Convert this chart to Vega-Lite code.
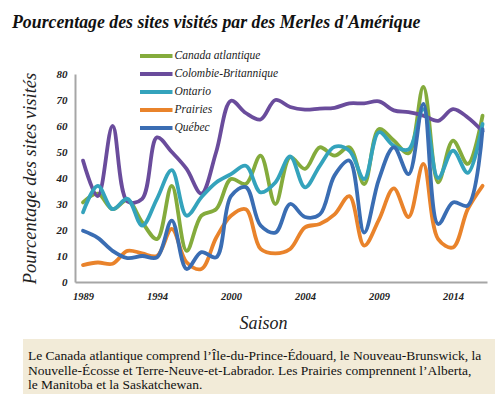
{
  "$schema": "https://vega.github.io/schema/vega-lite/v6.json",
  "padding": {"left": 12, "top": 13, "right": 3, "bottom": 1},
  "background": "white",
  "title": {"text": "Pourcentage des sites visités par des Merles d'Amérique", "anchor": "start", "frame": "bounds", "font": "Liberation Serif", "fontSize": 17.8, "fontStyle": "italic", "fontWeight": "bold", "color": "#111111", "dx": -8, "offset": 16},
  "config": {"view": {"stroke": null}},
  "spacing": 6,
  "vconcat": [
    {
      "width": 412,
      "height": 208,
      "data": {"values": [
        {"saison":0,"region":"Canada atlantique","pct":30.6},{"saison":1,"region":"Canada atlantique","pct":34},{"saison":2,"region":"Canada atlantique","pct":28},{"saison":3,"region":"Canada atlantique","pct":31.5},{"saison":4,"region":"Canada atlantique","pct":23},{"saison":5,"region":"Canada atlantique","pct":16.5},{"saison":6,"region":"Canada atlantique","pct":37},{"saison":7,"region":"Canada atlantique","pct":12},{"saison":8,"region":"Canada atlantique","pct":25.5},{"saison":9,"region":"Canada atlantique","pct":28},{"saison":10,"region":"Canada atlantique","pct":39.6},{"saison":11,"region":"Canada atlantique","pct":37.7},{"saison":12,"region":"Canada atlantique","pct":48.6},{"saison":13,"region":"Canada atlantique","pct":30},{"saison":14,"region":"Canada atlantique","pct":48},{"saison":15,"region":"Canada atlantique","pct":43.5},{"saison":16,"region":"Canada atlantique","pct":51.8},{"saison":17,"region":"Canada atlantique","pct":48.6},{"saison":18,"region":"Canada atlantique","pct":51.8},{"saison":19,"region":"Canada atlantique","pct":37.7},{"saison":20,"region":"Canada atlantique","pct":58.8},{"saison":21,"region":"Canada atlantique","pct":54.4},{"saison":22,"region":"Canada atlantique","pct":49.5},{"saison":23,"region":"Canada atlantique","pct":75},{"saison":24,"region":"Canada atlantique","pct":38.3},{"saison":25,"region":"Canada atlantique","pct":54.4},{"saison":26,"region":"Canada atlantique","pct":45.4},{"saison":27,"region":"Canada atlantique","pct":64},
        {"saison":0,"region":"Colombie-Britannique","pct":46.7},{"saison":1,"region":"Colombie-Britannique","pct":33},{"saison":2,"region":"Colombie-Britannique","pct":60},{"saison":3,"region":"Colombie-Britannique","pct":31},{"saison":4,"region":"Colombie-Britannique","pct":32},{"saison":5,"region":"Colombie-Britannique","pct":55.6},{"saison":6,"region":"Colombie-Britannique","pct":50},{"saison":7,"region":"Colombie-Britannique","pct":43.5},{"saison":8,"region":"Colombie-Britannique","pct":34},{"saison":9,"region":"Colombie-Britannique","pct":50},{"saison":10,"region":"Colombie-Britannique","pct":69.7},{"saison":11,"region":"Colombie-Britannique","pct":65},{"saison":12,"region":"Colombie-Britannique","pct":62.5},{"saison":13,"region":"Colombie-Britannique","pct":70},{"saison":14,"region":"Colombie-Britannique","pct":67.3},{"saison":15,"region":"Colombie-Britannique","pct":66.3},{"saison":16,"region":"Colombie-Britannique","pct":66.7},{"saison":17,"region":"Colombie-Britannique","pct":67},{"saison":18,"region":"Colombie-Britannique","pct":68.7},{"saison":19,"region":"Colombie-Britannique","pct":68.7},{"saison":20,"region":"Colombie-Britannique","pct":69.5},{"saison":21,"region":"Colombie-Britannique","pct":66},{"saison":22,"region":"Colombie-Britannique","pct":65.3},{"saison":23,"region":"Colombie-Britannique","pct":64},{"saison":24,"region":"Colombie-Britannique","pct":62},{"saison":25,"region":"Colombie-Britannique","pct":66.5},{"saison":26,"region":"Colombie-Britannique","pct":63.3},{"saison":27,"region":"Colombie-Britannique","pct":58},
        {"saison":0,"region":"Ontario","pct":26.8},{"saison":1,"region":"Ontario","pct":37},{"saison":2,"region":"Ontario","pct":28},{"saison":3,"region":"Ontario","pct":32},{"saison":4,"region":"Ontario","pct":21.7},{"saison":5,"region":"Ontario","pct":32},{"saison":6,"region":"Ontario","pct":43},{"saison":7,"region":"Ontario","pct":25.5},{"saison":8,"region":"Ontario","pct":32.6},{"saison":9,"region":"Ontario","pct":38.3},{"saison":10,"region":"Ontario","pct":41.5},{"saison":11,"region":"Ontario","pct":44.7},{"saison":12,"region":"Ontario","pct":34.5},{"saison":13,"region":"Ontario","pct":38.3},{"saison":14,"region":"Ontario","pct":48.3},{"saison":15,"region":"Ontario","pct":36.4},{"saison":16,"region":"Ontario","pct":44.7},{"saison":17,"region":"Ontario","pct":52},{"saison":18,"region":"Ontario","pct":50.5},{"saison":19,"region":"Ontario","pct":39.6},{"saison":20,"region":"Ontario","pct":57.6},{"saison":21,"region":"Ontario","pct":52.4},{"saison":22,"region":"Ontario","pct":51},{"saison":23,"region":"Ontario","pct":66.5},{"saison":24,"region":"Ontario","pct":40},{"saison":25,"region":"Ontario","pct":50.5},{"saison":26,"region":"Ontario","pct":42},{"saison":27,"region":"Ontario","pct":60.8},
        {"saison":0,"region":"Prairies","pct":6.5},{"saison":1,"region":"Prairies","pct":7.5},{"saison":2,"region":"Prairies","pct":7},{"saison":3,"region":"Prairies","pct":12},{"saison":4,"region":"Prairies","pct":11},{"saison":5,"region":"Prairies","pct":10},{"saison":6,"region":"Prairies","pct":20.4},{"saison":7,"region":"Prairies","pct":7.6},{"saison":8,"region":"Prairies","pct":5},{"saison":9,"region":"Prairies","pct":17},{"saison":10,"region":"Prairies","pct":25.5},{"saison":11,"region":"Prairies","pct":28},{"saison":12,"region":"Prairies","pct":12.7},{"saison":13,"region":"Prairies","pct":11},{"saison":14,"region":"Prairies","pct":12.7},{"saison":15,"region":"Prairies","pct":21},{"saison":16,"region":"Prairies","pct":22.3},{"saison":17,"region":"Prairies","pct":26},{"saison":18,"region":"Prairies","pct":33},{"saison":19,"region":"Prairies","pct":14},{"saison":20,"region":"Prairies","pct":24},{"saison":21,"region":"Prairies","pct":36},{"saison":22,"region":"Prairies","pct":25},{"saison":23,"region":"Prairies","pct":45.4},{"saison":24,"region":"Prairies","pct":16.5},{"saison":25,"region":"Prairies","pct":13.3},{"saison":26,"region":"Prairies","pct":28},{"saison":27,"region":"Prairies","pct":37},
        {"saison":0,"region":"Québec","pct":19.7},{"saison":1,"region":"Québec","pct":17},{"saison":2,"region":"Québec","pct":12},{"saison":3,"region":"Québec","pct":9.2},{"saison":4,"region":"Québec","pct":10},{"saison":5,"region":"Québec","pct":9.5},{"saison":6,"region":"Québec","pct":23.6},{"saison":7,"region":"Québec","pct":5},{"saison":8,"region":"Québec","pct":11.5},{"saison":9,"region":"Québec","pct":9.5},{"saison":10,"region":"Québec","pct":33},{"saison":11,"region":"Québec","pct":36.5},{"saison":12,"region":"Québec","pct":21.7},{"saison":13,"region":"Québec","pct":19},{"saison":14,"region":"Québec","pct":30},{"saison":15,"region":"Québec","pct":25},{"saison":16,"region":"Québec","pct":26},{"saison":17,"region":"Québec","pct":41},{"saison":18,"region":"Québec","pct":46.7},{"saison":19,"region":"Québec","pct":19},{"saison":20,"region":"Québec","pct":39.6},{"saison":21,"region":"Québec","pct":51.8},{"saison":22,"region":"Québec","pct":41.5},{"saison":23,"region":"Québec","pct":68.5},{"saison":24,"region":"Québec","pct":22.3},{"saison":25,"region":"Québec","pct":30.6},{"saison":26,"region":"Québec","pct":29.4},{"saison":27,"region":"Québec","pct":58.8}
      ]},
      "mark": {"type": "line", "interpolate": "catmull-rom", "strokeWidth": 3.8, "strokeCap": "round"},
      "encoding": {
        "x": {"field": "saison", "type": "quantitative",
          "scale": {"domain": [-0.54, 27.3], "nice": false, "zero": false},
          "axis": {"values": [0, 5, 10, 15, 20, 25],
            "labelExpr": "datum.value == 0 ? '1989' : datum.value == 5 ? '1994' : datum.value == 10 ? '2000' : datum.value == 15 ? '2004' : datum.value == 20 ? '2009' : '2014'",
            "title": "Saison", "titleX": 188, "titleAlign": "center", "grid": false, "ticks": false,
            "domainColor": "#A6A6A6", "domainWidth": 2,
            "labelFont": "Liberation Serif", "labelFontStyle": "italic", "labelFontWeight": "bold", "labelFontSize": 10.5, "labelColor": "#222222", "labelPadding": 9, "labelFlush": false,
            "titleFont": "Liberation Serif", "titleFontStyle": "italic", "titleFontWeight": "normal", "titleFontSize": 18, "titleColor": "#222222", "titlePadding": 13}},
        "y": {"field": "pct", "type": "quantitative",
          "scale": {"domain": [0, 80], "nice": false},
          "axis": {"values": [0, 10, 20, 30, 40, 50, 60, 70, 80],
            "title": "Pourcentage des sites visités", "grid": false, "ticks": false,
            "domainColor": "#A6A6A6", "domainWidth": 2,
            "labelFont": "Liberation Serif", "labelFontStyle": "italic", "labelFontWeight": "bold", "labelFontSize": 11, "labelColor": "#222222", "labelPadding": 8,
            "titleFont": "Liberation Serif", "titleFontStyle": "italic", "titleFontWeight": "normal", "titleFontSize": 18.5, "titleColor": "#222222", "titlePadding": 17}},
        "color": {"field": "region", "type": "nominal",
          "scale": {"domain": ["Canada atlantique", "Colombie-Britannique", "Ontario", "Prairies", "Québec"],
                    "range": ["#84AB3C", "#6A4C9C", "#34A3BC", "#E9832B", "#3A6DB3"]},
          "legend": {"orient": "none", "legendX": 63, "legendY": -26.5, "title": null, "padding": 0,
            "symbolType": "M-1,0H4", "symbolSize": 169, "symbolStrokeWidth": 4,
            "labelFont": "Liberation Serif", "labelFontStyle": "italic", "labelFontSize": 11.5, "labelColor": "#222222", "labelOffset": 19.5, "rowPadding": 1}}
      }
    },
    {
      "width": 412,
      "height": 55,
      "layer": [
        {
          "data": {"values": [{"gauche": -0.1262, "droite": 1.0194, "haut": -0.15, "bas": 3.58}]},
          "mark": {"type": "rect", "color": "#F2EBD8"},
          "encoding": {
            "x": {"field": "gauche", "type": "quantitative", "scale": {"domain": [0, 1], "nice": false, "zero": false}, "axis": null},
            "x2": {"field": "droite"},
            "y": {"field": "haut", "type": "quantitative", "scale": {"domain": [-0.15, 3.58], "reverse": true, "nice": false, "zero": false}, "axis": null},
            "y2": {"field": "bas"}
          }
        },
        {
          "data": {"values": [
            {"ligne": 1, "debut": -0.1141, "texte": "Le Canada atlantique comprend l’Île-du-Prince-Édouard, le Nouveau-Brunswick, la"},
            {"ligne": 2, "debut": -0.1141, "texte": "Nouvelle-Écosse et Terre-Neuve-et-Labrador. Les Prairies comprennent l’Alberta,"},
            {"ligne": 3, "debut": -0.1141, "texte": "\u00a0le Manitoba et la Saskatchewan."}
          ]},
          "mark": {"type": "text", "align": "left", "baseline": "middle", "font": "Liberation Serif", "fontSize": 13.5, "color": "#111111"},
          "encoding": {
            "x": {"field": "debut", "type": "quantitative"},
            "y": {"field": "ligne", "type": "quantitative"},
            "text": {"field": "texte"}
          }
        }
      ]
    }
  ]
}
